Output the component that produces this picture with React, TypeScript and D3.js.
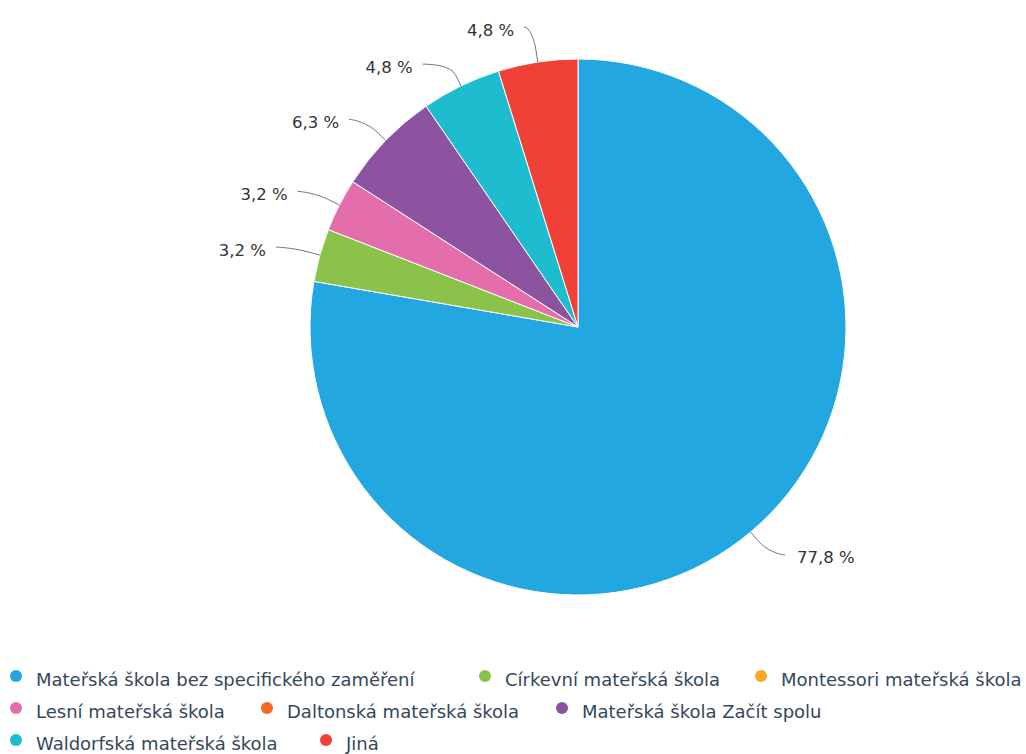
import React from "react";
import * as d3 from "d3";

const categories = [
  "Mateřská škola bez specifického zaměření",
  "Církevní mateřská škola",
  "Montessori mateřská škola",
  "Lesní mateřská škola",
  "Daltonská mateřská škola",
  "Mateřská škola Začít spolu",
  "Waldorfská mateřská škola",
  "Jiná",
];
const percentValues = [77.8, 3.2, 0, 3.2, 0, 6.3, 4.8, 4.8];
const colors = [
  "#22a7e0",
  "#8bc34a",
  "#fba826",
  "#e46eac",
  "#f3691f",
  "#8c53a1",
  "#1dbccf",
  "#ef4136",
];

// layout of legend items (row index, x of symbol centre)
const legendLayout: [number, number][] = [
  [0, 16],
  [0, 485],
  [0, 761],
  [1, 16],
  [1, 267],
  [1, 562],
  [2, 16],
  [2, 326],
];

const W = 1026;
const H = 754;
const CX = 578;
const CY = 327;
const R = 268;
const DIST = 30;
const PAD = 15;
const FONT = "'DejaVu Sans', Verdana, sans-serif";

type Lbl = {
  i: number;
  a: number;
  left: boolean;
  y: number;
  ny: number;
  x: number;
};

export default function App() {
  const pie = d3
    .pie<number>()
    .sort(null)
    .value((d) => d);
  const arcs = pie(percentValues);
  const arcGen = d3.arc<d3.PieArcDatum<number>>().innerRadius(0).outerRadius(R);

  const fmt = (v: number) => v.toFixed(1).replace(".", ",") + " %";

  const labels: Lbl[] = arcs
    .filter((a) => a.value > 0)
    .map((a) => {
      const mid = (a.startAngle + a.endAngle) / 2;
      const ang = mid - Math.PI / 2;
      const ny = CY + (R + DIST) * Math.sin(ang);
      return {
        i: a.index,
        a: ang,
        left: Math.cos(ang) < 0,
        y: ny,
        ny,
        x: 0,
      };
    });

  const minGap = 37;
  [true, false].forEach((side) => {
    const group = labels.filter((l) => l.left === side).sort((p, q) => p.y - q.y);
    for (let it = 0; it < 50; it++) {
      for (let k = 0; k < group.length - 1; k++) {
        const g = group[k + 1].y - group[k].y;
        if (g < minGap) {
          const d = (minGap - g) / 2;
          group[k].y -= d;
          group[k + 1].y += d;
        }
      }
    }
  });

  labels.forEach((l) => {
    const RR = R + DIST;
    const nat = Math.abs(Math.cos(l.a)) * RR;
    const dy = l.y - CY;
    const gx = Math.sqrt(Math.max(RR * RR - dy * dy, 0));
    const off = Math.max(nat, gx) + PAD - (gx < nat ? 6 : 0);
    l.x = CX + (l.left ? -off : off);
  });

  const rows = [676, 708, 740];

  return (
    <svg
      width={W}
      height={H}
      style={{ position: "absolute", left: 0, top: 0, display: "block", background: "#fff" }}
      fontFamily={FONT}
    >
      <g transform={`translate(${CX},${CY})`}>
        {arcs
          .filter((a) => a.value > 0)
          .map((a) => (
            <path
              key={a.index}
              d={arcGen(a) || ""}
              fill={colors[a.index]}
              stroke="#ffffff"
              strokeWidth={1}
              strokeLinejoin="round"
            />
          ))}
      </g>
      {labels.map((l) => {
        const tx = CX + Math.cos(l.a) * R;
        const ty = CY + Math.sin(l.a) * R;
        const bx = CX + Math.cos(l.a) * (R + 12);
        const by = CY + Math.sin(l.a) * (R + 12);
        const sx = l.x + (l.left ? 5 : -5);
        const path = `M ${l.x} ${l.y} C ${sx} ${l.y} ${2 * bx - tx} ${2 * by - ty} ${bx} ${by} L ${tx} ${ty}`;
        return (
          <g key={l.i}>
            <path d={path} fill="none" stroke="#777" strokeWidth={1} />
            <text
              x={l.left ? l.x - 10 : l.x + 12}
              y={l.y + 3}
              textAnchor={l.left ? "end" : "start"}
              dominantBaseline="central"
              fontSize={16.5}
              fill="#333333"
            >
              {fmt(percentValues[l.i])}
            </text>
          </g>
        );
      })}
      <g>
        {categories.map((c, i) => {
          const [row, x] = legendLayout[i];
          const y = rows[row];
          return (
            <g key={c}>
              <circle cx={x} cy={y} r={6} fill={colors[i]} />
              <text x={x + 20} y={y + 3} dominantBaseline="central" fontSize={18} fill="#34485c">
                {c}
              </text>
            </g>
          );
        })}
      </g>
    </svg>
  );
}
